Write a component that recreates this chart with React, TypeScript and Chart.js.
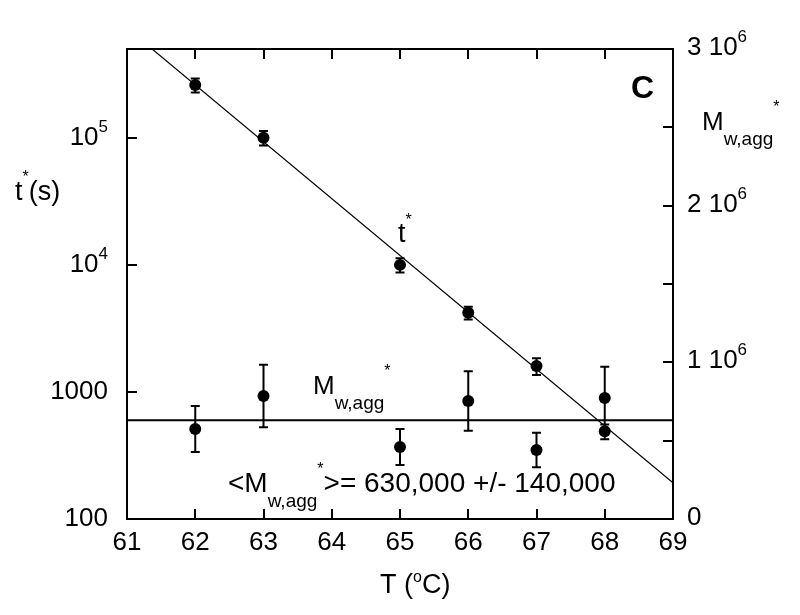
import React, { useEffect, useRef } from "react";
import { Chart, registerables } from "chart.js";

Chart.register(...registerables);

// ---- data ----
const temps = [62, 63, 65, 66, 67, 68];
const tStar = [260000, 100000, 10000, 4200, 1600, 490];
const tStarErr = [33000, 13000, 1300, 480, 240, 65];
const mwAgg = [574000, 785000, 460000, 753000, 440000, 772000];
const mwAggErr = [147000, 200000, 115000, 190000, 110000, 200000];
const fitTemps = [61, 69];
const fitTStar = [730000, 193];
const meanTemps = [61, 69];
const meanMw = [630000, 630000];

const xTickValues = [61, 62, 63, 64, 65, 66, 67, 68, 69];
const xTickLabels = ["61", "62", "63", "64", "65", "66", "67", "68", "69"];
const leftTickValues = [100, 1000, 10000, 100000];
const leftTickLabels = ["100", "1000", "10^{4}", "10^{5}"];
const rightTickValues = [0, 1000000, 2000000, 3000000];
const rightTickLabels = ["0", "1 10^{6}", "2 10^{6}", "3 10^{6}"];
const rightMinorTickValues = [500000, 1500000, 2500000];

const xTitle = "T (^{o}C)";
const leftTitle = "t^{*}(s)";
const rightTitle = "M_{w,agg}^{*}";
const panelLabel = "C";
const tAnnotation = "t^{*}";
const mAnnotation = "M_{w,agg}^{*}";
const meanAnnotation = "<M_{w,agg}^{*}>= 630,000 +/- 140,000";

const FONT = '"Liberation Sans", Arial, Helvetica, sans-serif';
const INK = "#000";

type Seg = { text: string; kind: "n" | "sup" | "sub" };
type RichStyle = {
  size: number;
  bold?: boolean;
  supSize?: number;
  subSize?: number;
  supRise?: number;
  subDrop?: number;
};

function parseRich(s: string): Seg[] {
  const out: Seg[] = [];
  let buf = "";
  let i = 0;
  while (i < s.length) {
    const c = s[i];
    if ((c === "^" || c === "_") && s[i + 1] === "{") {
      if (buf) out.push({ text: buf, kind: "n" });
      buf = "";
      const end = s.indexOf("}", i + 2);
      out.push({ text: s.slice(i + 2, end), kind: c === "^" ? "sup" : "sub" });
      i = end + 1;
    } else {
      buf += c;
      i++;
    }
  }
  if (buf) out.push({ text: buf, kind: "n" });
  return out;
}

function fontFor(seg: Seg, st: RichStyle) {
  const size =
    seg.kind === "sup" ? st.supSize ?? 17 : seg.kind === "sub" ? st.subSize ?? 19 : st.size;
  return `${st.bold ? "bold " : ""}${size}px ${FONT}`;
}

function drawRich(
  ctx: CanvasRenderingContext2D,
  s: string,
  x: number,
  y: number,
  align: "left" | "center" | "right",
  st: RichStyle
) {
  const segs = parseRich(s);
  const widths = segs.map((g) => {
    ctx.font = fontFor(g, st);
    return ctx.measureText(g.text).width;
  });
  const total = widths.reduce((a, b) => a + b, 0);
  let cx = align === "left" ? x : align === "center" ? x - total / 2 : x - total;
  ctx.textAlign = "left";
  ctx.textBaseline = "alphabetic";
  ctx.fillStyle = INK;
  segs.forEach((g, k) => {
    ctx.font = fontFor(g, st);
    let yy = y;
    if (g.kind === "sup") yy = y - (st.supRise ?? 13);
    if (g.kind === "sub") yy = y + (st.subDrop ?? 15);
    ctx.fillText(g.text, cx, yy);
    cx += widths[k];
  });
}

const decorPlugin = {
  id: "decor",
  afterDatasetsDraw(chart: any) {
    const ctx: CanvasRenderingContext2D = chart.ctx;
    const xs = chart.scales.x;
    const yl = chart.scales.yL;
    const yr = chart.scales.yR;
    const cap = 4.5;
    ctx.save();
    ctx.strokeStyle = INK;
    ctx.lineWidth = 2;
    const bar = (px: number, a: number, b: number) => {
      ctx.beginPath();
      ctx.moveTo(px, a);
      ctx.lineTo(px, b);
      ctx.moveTo(px - cap, a);
      ctx.lineTo(px + cap, a);
      ctx.moveTo(px - cap, b);
      ctx.lineTo(px + cap, b);
      ctx.stroke();
    };
    temps.forEach((t, i) => {
      const px = xs.getPixelForValue(t);
      bar(px, yl.getPixelForValue(tStar[i] + tStarErr[i]), yl.getPixelForValue(tStar[i] - tStarErr[i]));
      bar(px, yr.getPixelForValue(mwAgg[i] + mwAggErr[i]), yr.getPixelForValue(mwAgg[i] - mwAggErr[i]));
    });
    ctx.restore();
  },
  afterDraw(chart: any) {
    const ctx: CanvasRenderingContext2D = chart.ctx;
    const { left, right, top, bottom } = chart.chartArea;
    const xs = chart.scales.x;
    const yl = chart.scales.yL;
    const yr = chart.scales.yR;
    const tl = 10;
    ctx.save();
    ctx.strokeStyle = INK;
    ctx.lineWidth = 2;
    // frame
    ctx.strokeRect(left, top, right - left, bottom - top);
    // inward ticks
    ctx.beginPath();
    xTickValues.forEach((v) => {
      const px = Math.round(xs.getPixelForValue(v));
      ctx.moveTo(px, bottom);
      ctx.lineTo(px, bottom - tl);
      ctx.moveTo(px, top);
      ctx.lineTo(px, top + tl);
    });
    leftTickValues.forEach((v) => {
      const py = Math.round(yl.getPixelForValue(v));
      ctx.moveTo(left, py);
      ctx.lineTo(left + tl, py);
    });
    [...rightTickValues, ...rightMinorTickValues].forEach((v) => {
      const py = Math.round(yr.getPixelForValue(v));
      ctx.moveTo(right, py);
      ctx.lineTo(right - tl, py);
    });
    ctx.stroke();

    const tickStyle: RichStyle = { size: 26, supSize: 17, supRise: 13 };
    // x tick labels
    xTickValues.forEach((v, i) => {
      drawRich(ctx, xTickLabels[i], xs.getPixelForValue(v), bottom + 31, "center", tickStyle);
    });
    // left tick labels
    leftTickValues.forEach((v, i) => {
      drawRich(ctx, leftTickLabels[i], left - 19, yl.getPixelForValue(v) + 7, "right", tickStyle);
    });
    // right tick labels
    rightTickValues.forEach((v, i) => {
      drawRich(ctx, rightTickLabels[i], right + 14, yr.getPixelForValue(v) + 6, "left", tickStyle);
    });

    const starStyle = (size: number): RichStyle => ({
      size,
      supSize: 16,
      supRise: 18,
      subSize: 19,
      subDrop: 15,
    });
    // axis titles
    drawRich(ctx, xTitle, 380, 593, "left", { size: 27, supSize: 16, supRise: 11 });
    drawRich(ctx, leftTitle, 15, 200, "left", starStyle(27));
    drawRich(ctx, rightTitle, 702, 130, "left", starStyle(26));
    // panel label
    drawRich(ctx, panelLabel, 631, 98, "left", { size: 32, bold: true });
    // in-plot annotations
    drawRich(ctx, tAnnotation, 398, 242, "left", { size: 27, supSize: 16, supRise: 17 });
    drawRich(ctx, mAnnotation, 313, 394, "left", starStyle(26));
    drawRich(ctx, meanAnnotation, 228, 492, "left", starStyle(28));
    ctx.restore();
  },
};

export default function App() {
  const canvasRef = useRef<HTMLCanvasElement | null>(null);

  useEffect(() => {
    const canvas = canvasRef.current;
    if (!canvas) return;
    const chart = new Chart(canvas, {
      type: "scatter",
      data: {
        datasets: [
          {
            label: "fit",
            data: fitTemps.map((t, i) => ({ x: t, y: fitTStar[i] })),
            yAxisID: "yL",
            showLine: true,
            borderColor: INK,
            borderWidth: 1.2,
            pointRadius: 0,
          },
          {
            label: "mean",
            data: meanTemps.map((t, i) => ({ x: t, y: meanMw[i] })),
            yAxisID: "yR",
            showLine: true,
            borderColor: INK,
            borderWidth: 2,
            pointRadius: 0,
          },
          {
            label: "t*",
            data: temps.map((t, i) => ({ x: t, y: tStar[i] })),
            yAxisID: "yL",
            pointRadius: 6,
            pointBackgroundColor: INK,
            pointBorderWidth: 0,
            showLine: false,
          },
          {
            label: "Mw,agg*",
            data: temps.map((t, i) => ({ x: t, y: mwAgg[i] })),
            yAxisID: "yR",
            pointRadius: 6,
            pointBackgroundColor: INK,
            pointBorderWidth: 0,
            showLine: false,
          },
        ],
      },
      options: {
        responsive: false,
        animation: false,
        layout: { padding: { left: 127, right: 127, top: 49, bottom: 96 } },
        plugins: { legend: { display: false }, tooltip: { enabled: false } },
        scales: {
          x: { type: "linear", min: 61, max: 69, display: false },
          yL: { type: "logarithmic", position: "left", min: 100, max: 500000, display: false },
          yR: { type: "linear", position: "right", min: 0, max: 3000000, display: false },
        },
      },
      plugins: [decorPlugin],
    });
    return () => chart.destroy();
  }, []);

  return (
    <div style={{ position: "absolute", left: 0, top: 0, width: 800, height: 615, background: "#fff" }}>
      <canvas ref={canvasRef} width={800} height={615} style={{ display: "block" }} />
    </div>
  );
}
